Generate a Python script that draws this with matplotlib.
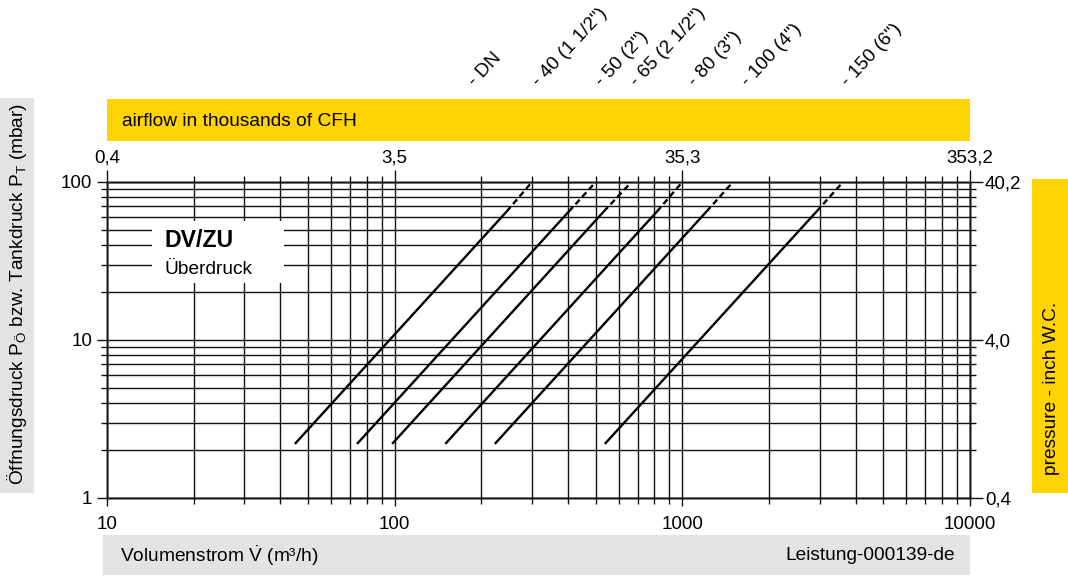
import matplotlib
matplotlib.use("Agg")
import matplotlib.pyplot as plt
from matplotlib.patches import Rectangle
from matplotlib.ticker import NullFormatter, FixedLocator, LogLocator

plt.rcParams['font.family'] = ['Liberation Sans', 'DejaVu Sans']
plt.rcParams['mathtext.fontset'] = 'custom'
plt.rcParams['mathtext.rm'] = 'Liberation Sans'
plt.rcParams['mathtext.it'] = 'Liberation Sans:italic'
plt.rcParams['mathtext.bf'] = 'Liberation Sans:bold'

# ---- data ----
dn_labels = ['- 40 (1 1/2")', '- 50 (2")', '- 65 (2 1/2")', '- 80 (3")', '- 100 (4")', '- 150 (6")']
flow_start = [45, 74, 98, 150, 223, 538]          # m³/h at p_start
flow_dash = [245, 403, 533, 816, 1213, 2927]        # m³/h where dashed part begins
flow_end = [300, 500, 666, 1000, 1500, 3620]       # m³/h at p_end
p_start = 2.2
p_dash = 65
p_end = 100
top_ticks = [10, 100, 1000, 10000]
top_labels = ['0,4', '3,5', '35,3', '353,2']
right_ticks = [1, 10, 100]
right_labels = ['0,4', '4,0', '40,2']
bottom_ticks = [10, 100, 1000, 10000]
bottom_labels = ['10', '100', '1000', '10000']
left_ticks = [1, 10, 100]
left_labels = ['1', '10', '100']

W, H = 1068, 577
fig = plt.figure(figsize=(W / 100, H / 100), dpi=100)
YEL = '#FFD400'
GRY = '#E3E3E3'
FS = 13.8
TFS = 13.5


def rect(x0, y0, x1, y1, color):
    fig.patches.append(Rectangle((x0 / W, 1 - y1 / H), (x1 - x0) / W, (y1 - y0) / H,
                                 transform=fig.transFigure, facecolor=color,
                                 edgecolor='none', zorder=0))


def ftext(x, y, s, **kw):
    fig.text(x / W, 1 - y / H, s, **kw)


# bands
rect(107, 99, 970, 141, YEL)
rect(103, 535, 970, 575, GRY)
rect(0, 98, 34, 493, GRY)
rect(1032, 179, 1068, 493, YEL)

ftext(122, 121, 'airflow in thousands of CFH', fontsize=FS, va='center', ha='left')
ftext(120, 556, r'Volumenstrom $\dot{\mathregular{V}}$ (m³/h)', fontsize=FS, va='center', ha='left')
ftext(955, 556, 'Leistung-000139-de', fontsize=FS, va='center', ha='right')
ftext(17, 294, r'Öffnungsdruck P$_\mathregular{Ö}$ bzw. Tankdruck P$_\mathregular{T}$ (mbar)',
      fontsize=FS, va='center', ha='center', rotation=90)
ftext(1051, 388, 'pressure - inch W.C.', fontsize=FS, va='center', ha='center', rotation=90)

# axes
x0, x1, yt, yb = 107, 970, 182, 498
ax = fig.add_axes([x0 / W, 1 - yb / H, (x1 - x0) / W, (yb - yt) / H])
ax.set_xscale('log')
ax.set_yscale('log')
ax.set_xlim(10, 10000)
ax.set_ylim(1, 100)
ax.set_facecolor('none')

gkw = dict(color='#111111', lw=1.0)
ax.grid(which='major', **gkw)
ax.grid(which='minor', **gkw)
for sp in ax.spines.values():
    sp.set_linewidth(1.0)
    sp.set_color('#111111')

ax.xaxis.set_major_locator(FixedLocator(bottom_ticks))
ax.set_xticklabels(bottom_labels)
ax.xaxis.set_minor_locator(LogLocator(base=10, subs=range(2, 10)))
ax.xaxis.set_minor_formatter(NullFormatter())
ax.yaxis.set_major_locator(FixedLocator(left_ticks))
ax.set_yticklabels(left_labels)
ax.yaxis.set_minor_locator(LogLocator(base=10, subs=range(2, 10)))
ax.yaxis.set_minor_formatter(NullFormatter())

ax.tick_params(axis='x', which='major', direction='out', length=6, width=1.0, pad=7, labelsize=TFS, color='#111111')
ax.tick_params(axis='x', which='minor', direction='out', length=4.5, width=1.0, color='#111111')
ax.tick_params(axis='y', which='major', direction='out', length=7.5, width=1.0, pad=3, labelsize=TFS, color='#111111')
ax.tick_params(axis='y', which='minor', direction='out', length=4.5, width=1.0, color='#111111')

# top axis
axt = ax.twiny()
axt.set_xscale('log')
axt.set_xlim(10, 10000)
axt.xaxis.set_major_locator(FixedLocator(top_ticks))
axt.set_xticklabels(top_labels)
axt.xaxis.set_minor_locator(LogLocator(base=10, subs=range(2, 10)))
axt.xaxis.set_minor_formatter(NullFormatter())
axt.tick_params(axis='x', which='major', direction='out', length=8.6, width=1.0, pad=2.5, labelsize=TFS, color='#111111')
axt.tick_params(axis='x', which='minor', direction='out', length=4.3, width=1.0, color='#111111')

# right axis
axr = ax.twinx()
axr.set_yscale('log')
axr.set_ylim(1, 100)
axr.yaxis.set_major_locator(FixedLocator(right_ticks))
axr.set_yticklabels(right_labels)
axr.yaxis.set_minor_locator(LogLocator(base=10, subs=range(2, 10)))
axr.yaxis.set_minor_formatter(NullFormatter())
axr.tick_params(axis='y', which='major', direction='out', length=9.3, width=1.0, pad=1.5, labelsize=TFS, color='#111111')
axr.tick_params(axis='y', which='minor', direction='out', length=4.3, width=1.0, color='#111111')
for a in (axt, axr):
    for sp in a.spines.values():
        sp.set_linewidth(1.0)
        sp.set_color('#111111')

# white box with title
ax.add_patch(Rectangle((152 / W, 1 - 283 / H), (284 - 152) / W, (283 - 221) / H,
                       transform=fig.transFigure, facecolor='white', edgecolor='none', zorder=2))
ftext(165, 247, 'DV/ZU', fontsize=16.7, fontweight='bold', va='baseline', ha='left', zorder=3)
ftext(165, 274, 'Überdruck', fontsize=13.8, va='baseline', ha='left', zorder=3)

# flow lines
for fs, fd, fe in zip(flow_start, flow_dash, flow_end):
    ax.plot([fs, fd], [p_start, p_dash], color='black', lw=1.7, solid_capstyle='butt', zorder=4)
    ax.plot([fd, fe], [p_dash, p_end], color='black', lw=1.7, dashes=[2.6, 1.6], zorder=4)

# DN labels
label_px = [539, 602, 637, 695, 748, 848]
for lbl, px in zip(dn_labels, label_px):
    ftext(px, 87, lbl, fontsize=FS, rotation=47, rotation_mode='anchor', ha='left', va='baseline')
ftext(475, 87, '- DN', fontsize=FS, rotation=47, rotation_mode='anchor', ha='left', va='baseline')

fig.savefig('out.png', dpi=100)
